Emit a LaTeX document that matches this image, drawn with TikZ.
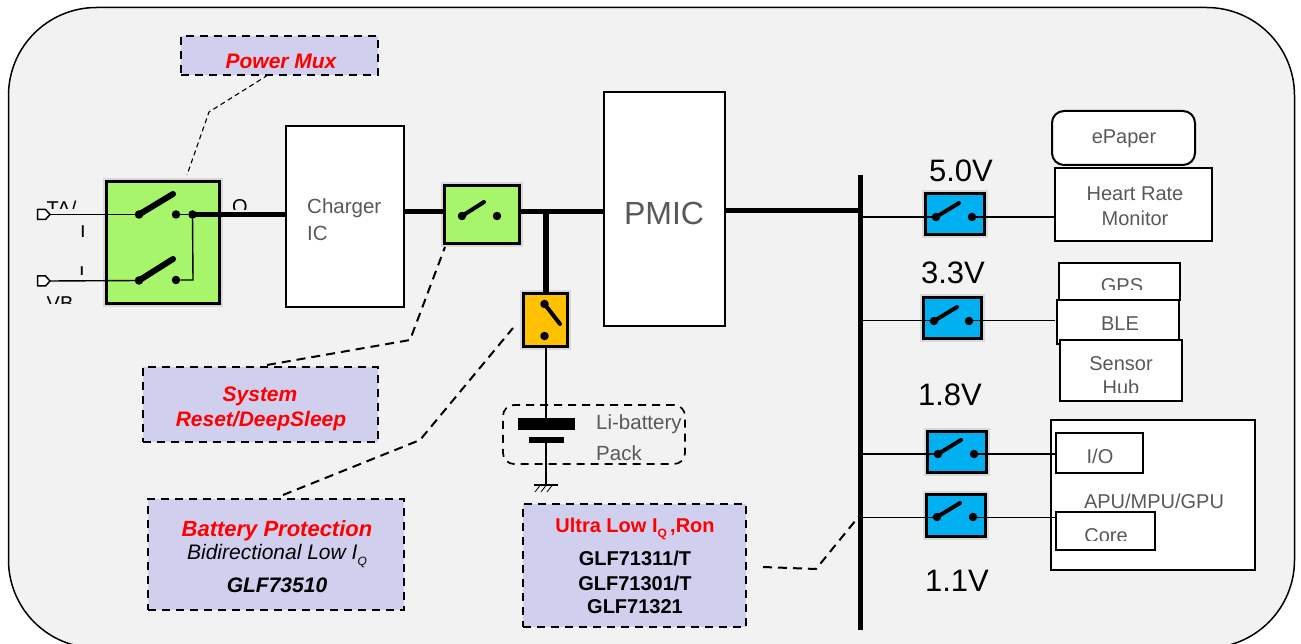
\documentclass[tikz,border=0pt]{standalone}
\usepackage{fontspec}
\setmainfont{Liberation Sans}
\usetikzlibrary{calc}
\definecolor{pagebg}{HTML}{F2F2F2}
\definecolor{txtgray}{HTML}{595959}
\definecolor{lav}{HTML}{D0D0EE}
\definecolor{sgreen}{HTML}{A6F56A}
\definecolor{sorange}{HTML}{FFC000}
\definecolor{sblue}{HTML}{00B0F0}
\newcommand\fs[1]{\fontsize{#1}{#1}\selectfont}
\newcommand\bx[7]{%
  \pgfmathsetmacro\cxx{((#2)+(#4))/2}\pgfmathsetmacro\cyy{((#3)+(#5))/2}%
  \pgfmathsetmacro\www{(#4)-(#2)}\pgfmathsetmacro\hhh{(#5)-(#3)}%
  \node[inner sep=0pt,outer sep=0pt,minimum width=\www pt,minimum height=\hhh pt,align=center,#6] (#1) at (\cxx,\cyy) {#7};}
\newcommand\swdot[2]{\node[swdotst] (#1) at (#2) {};}
\tikzset{
  x=1pt,y=-1pt,
  whitebox/.style={draw=black,line width=1.7pt,fill=white,text=txtgray},
  swbox/.style={draw=black,line width=3pt,preaction={draw=black,opacity=.10,line width=7pt}},
  callout/.style={draw=black,line width=2pt,dash pattern=on 8pt off 6pt,fill=lav},
  leader/.style={draw=black,line width=2pt,dash pattern=on 9pt off 6pt},
  leaderthin/.style={draw=black,line width=1.1pt,dash pattern=on 5pt off 3.5pt},
  swdotst/.style={circle,fill=black,inner sep=0pt,outer sep=0pt,minimum size=8.5pt},
  blade/.style={line width=4pt,line cap=round},
  bladethick/.style={line width=6pt,line cap=round},
  thinw/.style={line width=1.4pt},
  thickw/.style={line width=5pt},
  gtxt/.style={text=txtgray,inner sep=0pt},
  hd/.style={text=red,font=\fs{21}\bfseries\itshape},
  volt/.style={inner sep=0pt,font=\fs{31}},
  termst/.style={draw=black,line width=1.5pt,fill=white,line join=round}
}
\begin{document}
\begin{tikzpicture}
\useasboundingbox (0,0) rectangle (1301,644);
\clip (0,0) rectangle (1301,644);
\fill[white] (0,0) rectangle (1301,644);
\draw[black,line width=1.5pt,fill=pagebg,rounded corners=88pt] (8.5,7.5) rectangle (1294.5,648);

% clipped fragments near the mux
\begin{scope}\clip (30,190) rectangle (100,208.5);
\node[gtxt,text=black,font=\fs{20}] (lta) at (61.5,208) {TA/};\end{scope}
\begin{scope}\clip (70,226) rectangle (95,237);
\node[gtxt,text=black,font=\fs{20}] (lia) at (83,233) {I};\end{scope}
\begin{scope}\clip (70,266.5) rectangle (95,275);
\node[gtxt,text=black,font=\fs{20}] (lib) at (82,274) {I};\end{scope}
\begin{scope}\clip (30,296.5) rectangle (100,304);
\node[gtxt,text=black,font=\fs{20}] (lvb) at (60,304) {VB};\end{scope}
\begin{scope}\clip (225,198) rectangle (255,210);
\node[gtxt,text=black,font=\fs{20}] (lo) at (240,207) {O};\end{scope}

% Power mux
\bx{mux}{106}{182}{219}{304}{swbox,fill=sgreen}{}
\coordinate (ta) at (50,214.5);\coordinate (vb) at (50,281);
\draw[termst] (37.5,209.5) -- (45.5,209.5) -- (ta) -- (45.5,219.5) -- (37.5,219.5) -- cycle;
\draw[termst] (37.5,276) -- (45.5,276) -- (vb) -- (45.5,286) -- (37.5,286) -- cycle;
\swdot{mua}{139,214.5}\swdot{mub}{176,214.5}\swdot{mj}{192.5,214.5}
\swdot{muc}{139,280.5}\swdot{mud}{176,280}
\coordinate (mubt) at (173,194);\coordinate (mudt) at (173,259);
\coordinate (mc) at (193,280);
\draw[thinw] (ta) -- (mua);\draw[thinw] (vb) -- (muc);
\draw[thinw] (mub) -- (mj);\draw[thinw] (mj.center) -- (mc) -- (mud);
\draw[bladethick] (mua.center) -- (mubt);\draw[bladethick] (muc.center) -- (mudt);

% Charger
\bx{chg}{286}{126}{404}{307}{whitebox}{}
\node[gtxt,font=\fs{20.5},align=left,anchor=north west,text=txtgray] (chgt) at (307,198) {Charger\\[7pt]IC};
\draw[thickw] (mj.center) -- (chg.west |- mj);

% System switch
\bx{sysw}{444}{186}{519}{244}{swbox,fill=sgreen}{}
\swdot{ssa}{462,216}\swdot{ssb}{497,216}\coordinate (sst) at (484,202);
\draw[blade] (ssa.center) -- (sst);
\draw[thickw] (chg.east |- 0,212) -- (sysw.west |- 0,212);

% PMIC
\bx{pmic}{604}{92}{725}{326}{whitebox}{}
\node[gtxt,font=\fs{32}] (pmict) at (664,213) {PMIC};
\coordinate (junc) at (546,212);
\draw[thickw] (sysw.east |- junc) -- (pmic.west |- junc);

% Battery switch
\bx{batsw}{523}{294}{567}{346}{swbox,fill=sorange}{}
\swdot{bsa}{544.5,304}\swdot{bsb}{544.5,336}\coordinate (bst) at (560,324);
\draw[blade] (bsa.center) -- (bst);
\draw[line width=6pt] (junc) -- (546,293);

% Battery
\node[inner sep=0pt,minimum width=57pt,minimum height=12pt,fill=black] (pl1) at (546.5,424) {};
\node[inner sep=0pt,minimum width=35pt,minimum height=6pt,fill=black] (pl2) at (546.5,440) {};
\draw[thinw] (546,347) -- (pl1.north -| 546,0);
\coordinate (gnd) at (546,485);
\draw[thinw] (pl2.south -| 546,0) -- (gnd);
\draw[line width=1.4pt] (534,485) -- (558,485);
\draw[line width=.8pt] (540,485.5) -- (535,492) (546,485.5) -- (541,492) (552,485.5) -- (547,492);
\node[draw=black,line width=1.7pt,dash pattern=on 8pt off 6pt,rounded corners=11pt,inner sep=0pt,minimum width=182pt,minimum height=59pt] (pack) at (594,434.5) {};
\node[gtxt,font=\fs{20.5},anchor=west] (li) at (596,424.5) {Li-battery};
\node[gtxt,font=\fs{20.5},anchor=west] (pk) at (596,453) {Pack};

% Bus
\coordinate (bt) at (860.5,175);\coordinate (bb) at (860.5,630);
\draw[line width=5pt] (bt) -- (bb);
\draw[thickw] (pmic.east |- 0,211) -- (860.5,211);

% Loads
\bx{epaper}{1052}{111}{1195}{165}{whitebox,line width=2pt,rounded corners=12pt}{}
\node[gtxt,font=\fs{20}] (ept) at (1124,139) {ePaper};
\bx{heart}{1055}{168}{1212}{241}{whitebox}{}
\node[gtxt,font=\fs{20}] (ht1) at (1135,194) {Heart Rate};
\node[gtxt,font=\fs{20}] (ht2) at (1135,218) {Monitor};
\bx{gps}{1059}{263}{1180}{300}{whitebox}{}
\begin{scope}\clip (1060,270) rectangle (1178,290);
\node[gtxt,font=\fs{20}] (gpst) at (1122,286) {GPS};\end{scope}
\bx{ble}{1057}{300}{1179}{344}{whitebox}{}
\node[gtxt,font=\fs{20}] (blet) at (1120,323.5) {BLE};
\bx{sensor}{1060}{340}{1182}{401}{whitebox}{}
\node[gtxt,font=\fs{20}] (sn) at (1121,364) {Sensor};
\begin{scope}\clip (1062,370) rectangle (1178,392);
\node[gtxt,font=\fs{20}] (hb) at (1121,387) {Hub};\end{scope}
\bx{apu}{1051}{420}{1255}{570}{whitebox}{}
\node[gtxt,font=\fs{20}] (aput) at (1154,501) {APU/MPU/GPU};
\bx{io}{1056}{433}{1143}{473}{whitebox}{}
\node[gtxt,font=\fs{20}] (iot) at (1100,456) {I/O};
\bx{core}{1056}{512}{1155}{550}{whitebox}{}
\begin{scope}\clip (1058,520) rectangle (1153,540.5);
\node[gtxt,font=\fs{20}] (coret) at (1106,536) {Core};\end{scope}

% Rail switches
\newcommand\railsw[7]{%
  \bx{#1}{#2+1}{#3+1}{#4-1}{#5-1}{swbox,fill=sblue}{}
  \pgfmathsetmacro\dya{#3+24}
  \swdot{#1a}{#2+12,\dya}\swdot{#1b}{#4-13,\dya}
  \coordinate (#1t) at (#2+35,#3+10);
  \draw[blade] (#1a.center) -- (#1t);
  \coordinate (#1bus) at (860.5,#6);
  \coordinate (#1load) at (#7,#6);
  \draw[thinw] (#1bus) -- (#1a.center |- #1bus);
  \draw[thinw] (#1b.center |- #1bus) -- (#1load);
}
\railsw{sv}{924}{193}{985}{236}{217}{1055}
\railsw{th}{922}{297}{982}{339}{320.5}{1055}
\railsw{oe}{926}{430}{987}{473}{454}{1056}
\railsw{oo}{925}{493}{986}{537}{517.5}{1056}

\node[volt] (v5) at (961,171) {5.0V};
\node[volt] (v3) at (953,273) {3.3V};
\node[volt] (v1) at (950,395) {1.8V};
\node[volt] (v11) at (957,581) {1.1V};

% Callouts
\bx{cmux}{181}{36}{378}{75}{callout}{}
\node[hd,inner sep=0pt] (cmux1) at (281,61) {Power Mux};
\bx{csys}{143}{367}{378}{442}{callout}{}
\node[hd,inner sep=0pt] (csys1) at (260,396) {System};
\node[hd,inner sep=0pt] (csys2) at (261,421) {Reset/DeepSleep};
\bx{cbat}{148}{499}{404}{610}{callout}{}
\node[hd,inner sep=0pt,font=\fs{22}\bfseries\itshape] (cbat1) at (277,531) {Battery Protection};
\node[font=\fs{21}\itshape,inner sep=0pt] (cbat2) at (277,556) {Bidirectional Low I\raisebox{-6pt}{\fs{12}Q}};
\node[font=\fs{21}\bfseries\itshape,inner sep=0pt] (cbat3) at (277,585) {GLF73510};
\bx{cult}{523}{504}{746}{627}{callout}{}
\node[text=red,font=\fs{20}\bfseries,inner sep=0pt] (cult1) at (635,529) {Ultra Low I\raisebox{-5pt}{\fs{12}Q}\,,Ron};
\node[font=\fs{20}\bfseries,inner sep=0pt] (cult2) at (635,558) {GLF71311/T};
\node[font=\fs{20}\bfseries,inner sep=0pt] (cult3) at (635,583) {GLF71301/T};
\node[font=\fs{20}\bfseries,inner sep=0pt] (cult4) at (635,607) {GLF71321};

% Leaders
\coordinate (l1a) at (268,75);\coordinate (l1b) at (209,112);\coordinate (l1c) at (187,175);
\draw[leaderthin] (l1a) -- (l1b) -- (l1c);
\coordinate (l2a) at (267,365);\coordinate (l2b) at (410,340);\coordinate (l2c) at (445,247);
\draw[leader] (l2a) -- (l2b) -- (l2c);
\coordinate (l3a) at (283,495);\coordinate (l3b) at (420,440);\coordinate (l3c) at (513,328);
\draw[leader] (l3a) -- (l3b) -- (l3c);
\coordinate (l4a) at (763,567);\coordinate (l4b) at (816,569);\coordinate (l4c) at (860,515);
\draw[leader] (l4a) -- (l4b) -- (l4c);
\end{tikzpicture}
\end{document}
